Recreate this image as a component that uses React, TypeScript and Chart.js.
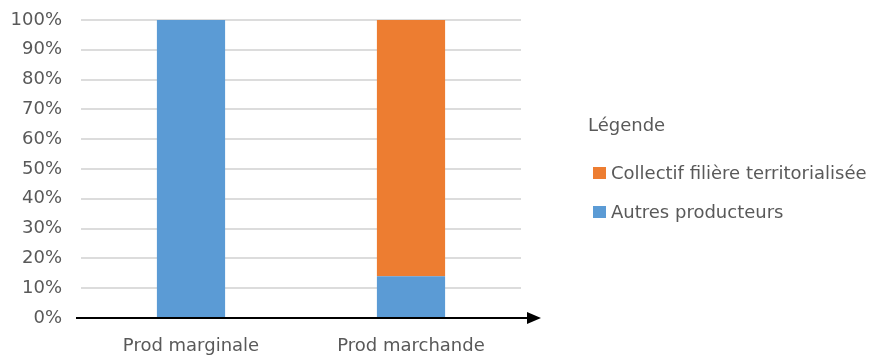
import React, { useEffect, useRef } from "react";
import { Chart, registerables } from "chart.js";

Chart.register(...registerables);

const categories = ["Prod marginale", "Prod marchande"];
const autresProducteurs = [1.0, 0.14];
const collectifFiliere = [0.0, 0.86];
const legendTitle = "Légende";
const seriesNames = ["Autres producteurs", "Collectif filière territorialisée"];
const seriesColors = ["#5B9BD5", "#ED7D31"];

const FONT = "'DejaVu Sans', sans-serif";
const TEXT = "#595959";
const FS = 18;

const axisArrowPlugin = {
  id: "axisArrow",
  afterDatasetsDraw(chart: any) {
    const { ctx, chartArea } = chart;
    const y = chart.scales.y.getPixelForValue(0);
    ctx.save();
    ctx.strokeStyle = "#000";
    ctx.fillStyle = "#000";
    ctx.lineWidth = 2;
    ctx.beginPath();
    ctx.moveTo(chartArea.left - 5, y);
    ctx.lineTo(chartArea.right + 8, y);
    ctx.stroke();
    ctx.beginPath();
    ctx.moveTo(chartArea.right + 20, y);
    ctx.lineTo(chartArea.right + 6, y - 6);
    ctx.lineTo(chartArea.right + 6, y + 6);
    ctx.closePath();
    ctx.fill();
    ctx.restore();
  },
};

const customLegendPlugin = {
  id: "customLegend",
  afterDraw(chart: any) {
    const { ctx, chartArea } = chart;
    const x0 = chartArea.right + 67;
    ctx.save();
    ctx.font = `${FS}px ${FONT}`;
    ctx.fillStyle = TEXT;
    ctx.textBaseline = "middle";
    ctx.textAlign = "left";
    ctx.fillText(legendTitle, x0, 126);
    const items = chart.data.datasets.slice().reverse();
    items.forEach((ds: any, i: number) => {
      const cy = 173 + i * 39;
      ctx.fillStyle = ds.backgroundColor;
      ctx.fillRect(x0 + 5, cy - 6, 13, 12);
      ctx.fillStyle = TEXT;
      ctx.fillText(ds.label, x0 + 23, cy + 1);
    });
    ctx.restore();
  },
};

export default function App() {
  const canvasRef = useRef<HTMLCanvasElement | null>(null);

  useEffect(() => {
    if (!canvasRef.current) return;
    const chart = new Chart(canvasRef.current, {
      type: "bar",
      data: {
        labels: categories,
        datasets: [
          {
            label: seriesNames[0],
            data: autresProducteurs,
            backgroundColor: seriesColors[0],
            barPercentage: 0.31,
            categoryPercentage: 1,
          },
          {
            label: seriesNames[1],
            data: collectifFiliere,
            backgroundColor: seriesColors[1],
            barPercentage: 0.31,
            categoryPercentage: 1,
          },
        ],
      },
      options: {
        animation: false,
        responsive: false,
        devicePixelRatio: 1,
        layout: { padding: { top: 20, right: 354, bottom: 0, left: 0 } },
        plugins: {
          legend: { display: false },
          tooltip: { enabled: false },
        },
        scales: {
          x: {
            stacked: true,
            grid: { display: false },
            border: { display: false },
            ticks: {
              color: TEXT,
              font: { family: FONT, size: FS },
              padding: 10,
            },
            afterFit: (scale: any) => {
              scale.height = 38;
              scale.paddingLeft = 0;
              scale.paddingRight = 0;
            },
          },
          y: {
            stacked: true,
            min: 0,
            max: 1,
            grid: {
              color: (c: any) => (c.tick && c.tick.value === 0 ? "rgba(0,0,0,0)" : "#dcdcdc"),
              lineWidth: 2,
              drawTicks: false,
            },
            border: { display: false },
            ticks: {
              stepSize: 0.1,
              color: TEXT,
              font: { family: FONT, size: FS },
              padding: 19,
              callback: (v: any) => `${Math.round(Number(v) * 100)}%`,
            },
            afterFit: (scale: any) => {
              scale.width = 81;
              scale.paddingTop = 0;
              scale.paddingBottom = 0;
            },
          },
        },
      },
      plugins: [axisArrowPlugin, customLegendPlugin],
    });
    return () => chart.destroy();
  }, []);

  return (
    <div style={{ position: "fixed", left: 0, top: 0, width: 875, height: 356, background: "#fff" }}>
      <canvas ref={canvasRef} width={875} height={356} style={{ display: "block" }} />
    </div>
  );
}
